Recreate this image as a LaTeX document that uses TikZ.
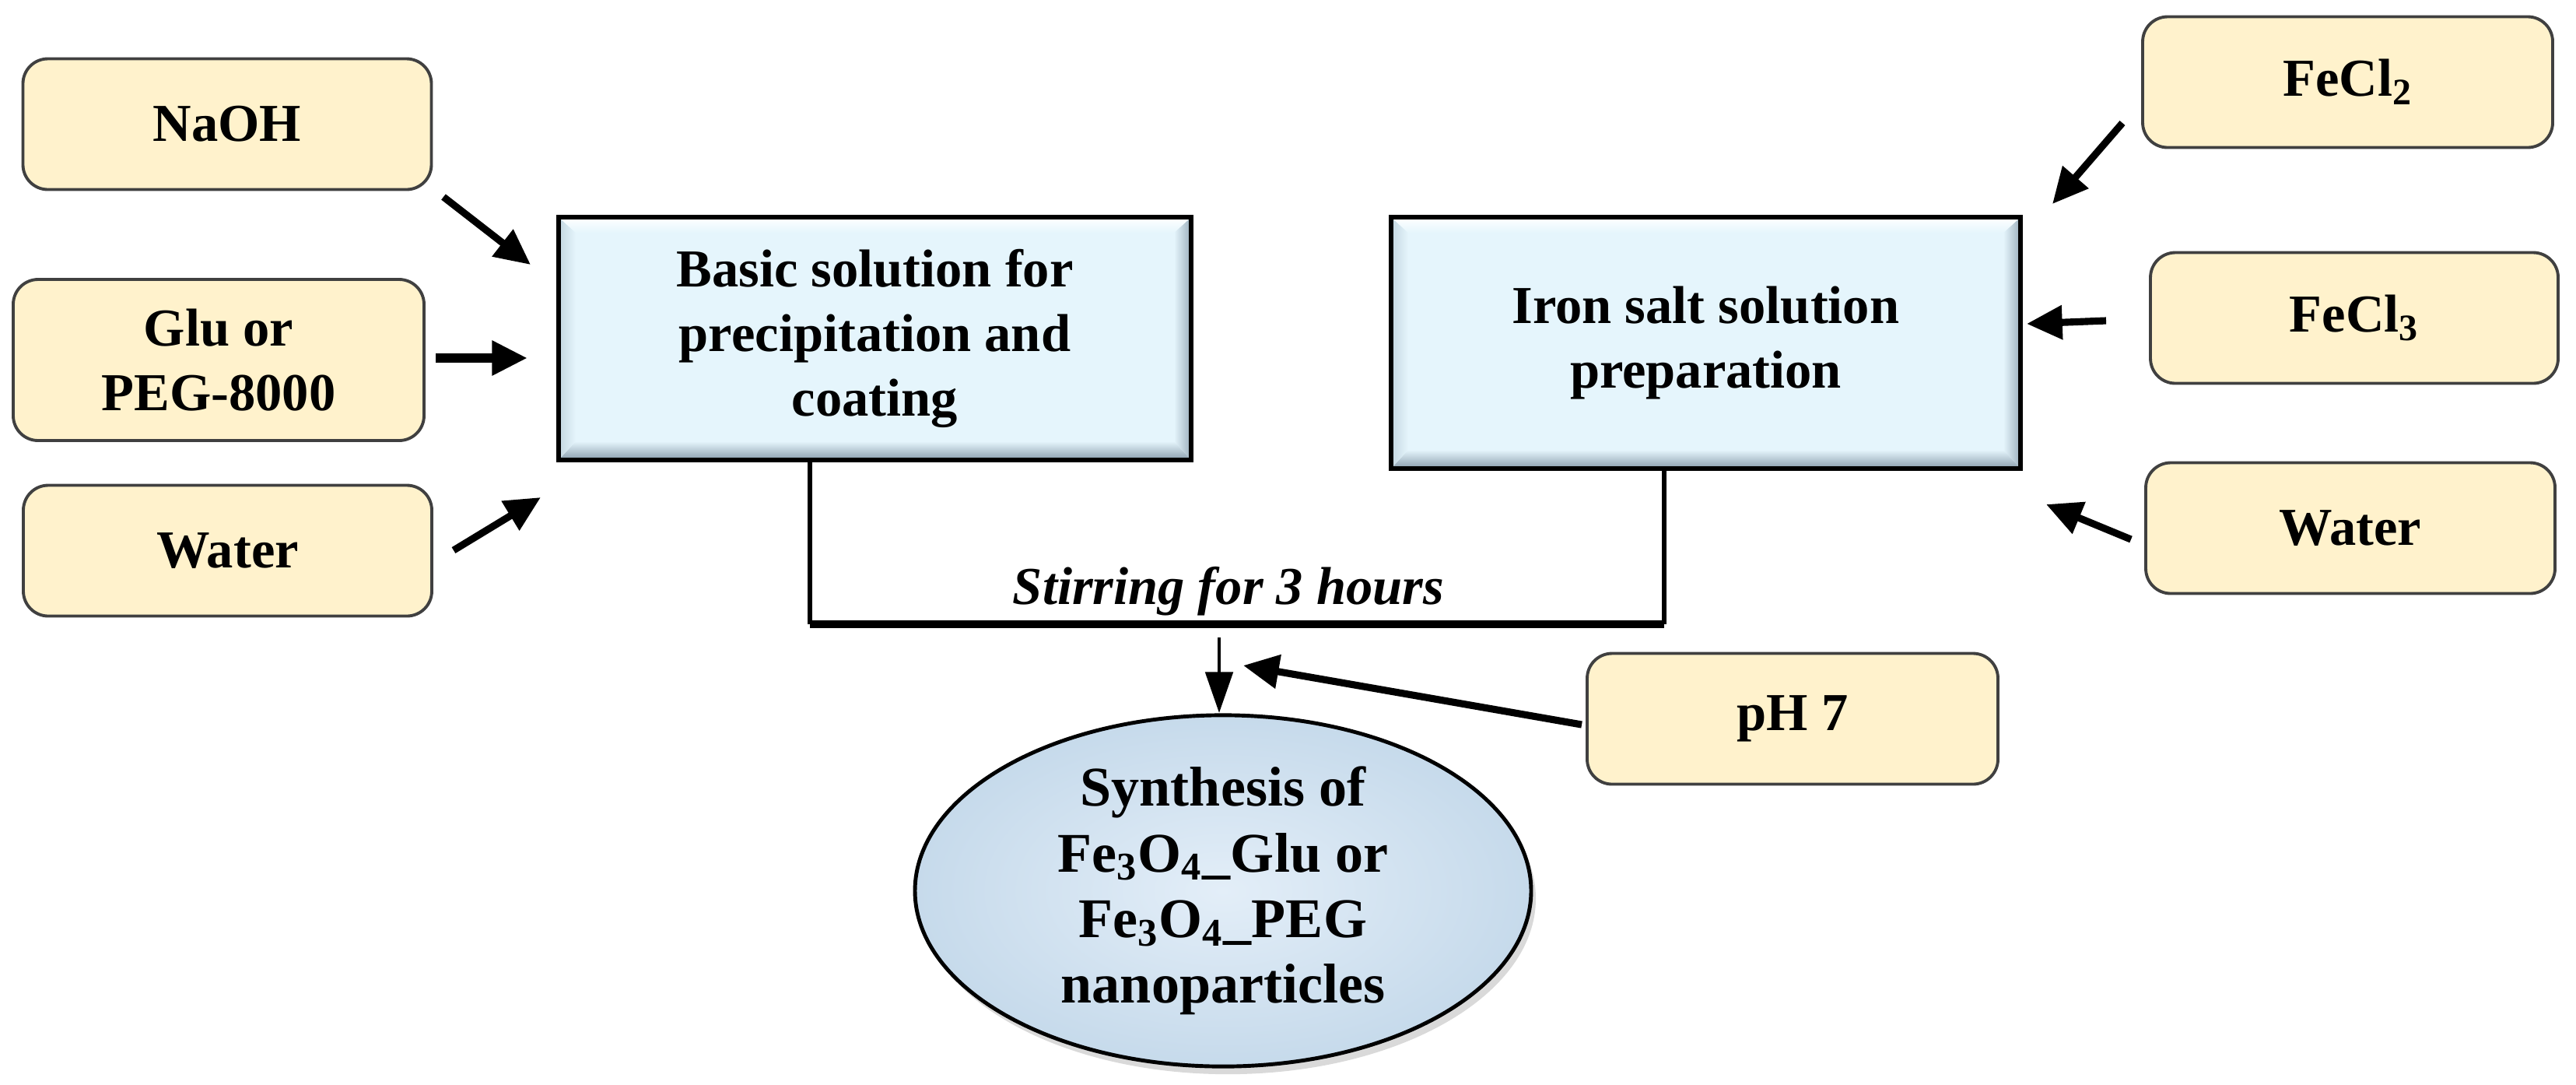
\documentclass[tikz,border=0pt]{standalone}
\usepackage{fontspec}
\setmainfont{Liberation Serif}
\usetikzlibrary{arrows.meta,shapes.geometric,shadows}
\definecolor{beige}{HTML}{FFF2CC}
\definecolor{beigeedge}{HTML}{404040}
\definecolor{bluefill}{HTML}{E5F5FC}
\definecolor{bluedark}{HTML}{8A9EAD}
\definecolor{bluemid}{HTML}{C4D6E0}
\definecolor{ellin}{HTML}{E3EEF8}
\definecolor{ellout}{HTML}{C6DAEB}
\begin{document}
\begin{tikzpicture}[
  font=\fontsize{19.5}{23.5}\selectfont\bfseries,
  srcbox/.style={draw=beigeedge, line width=1.1pt, fill=beige, rounded corners=0.32cm,
    minimum width=5.25cm, minimum height=1.68cm, align=center, inner sep=0pt},
  bluebox/.style={draw=black, line width=1.7pt, fill=bluefill, align=center, inner sep=0pt,
    path picture={
      \path (path picture bounding box.south west) coordinate (pbsw)
            (path picture bounding box.south east) coordinate (pbse)
            (path picture bounding box.north west) coordinate (pbnw)
            (path picture bounding box.north east) coordinate (pbne);
      \shade[top color=bluefill, bottom color=bluedark]
        (pbsw) -- (pbse) -- ([shift={(-0.22,0.24)}]pbse) -- ([shift={(0.22,0.24)}]pbsw) -- cycle;
      \shade[left color=bluefill, right color=bluedark!70!bluemid]
        (pbse) -- (pbne) -- ([shift={(-0.22,-0.2)}]pbne) -- ([shift={(-0.22,0.24)}]pbse) -- cycle;
      \shade[left color=bluemid, right color=bluefill]
        (pbsw) -- (pbnw) -- ([shift={(0.22,-0.2)}]pbnw) -- ([shift={(0.22,0.24)}]pbsw) -- cycle;
      \shade[top color=white, bottom color=bluefill]
        (pbnw) -- (pbne) -- ([shift={(-0.22,-0.2)}]pbne) -- ([shift={(0.22,-0.2)}]pbnw) -- cycle;
    }},
  thickarrow/.style={line width=2.6pt, -{Triangle[length=13pt,width=12pt]}},
  linkline/.style={line width=1.7pt},
]
\useasboundingbox (0,0) rectangle (33.11,-13.93);

% source boxes, left
\node[srcbox] (naoh) at (2.92,-1.595) {NaOH};
\node[srcbox, minimum width=5.28cm, minimum height=2.07cm] (glu) at (2.81,-4.625) {Glu or\\PEG-8000};
\node[srcbox] (waterL) at (2.925,-7.075) {Water};

% source boxes, right
\node[srcbox, minimum width=5.27cm] (fecl2) at (30.175,-1.055) {FeCl\textsubscript{2}};
\node[srcbox, minimum width=5.24cm] (fecl3) at (30.26,-4.085) {FeCl\textsubscript{3}};
\node[srcbox, minimum width=5.26cm] (waterR) at (30.21,-6.785) {Water};
\node[srcbox, minimum width=5.28cm] (ph) at (23.04,-9.235) {pH 7};

% process boxes
\node[bluebox, minimum width=8.13cm, minimum height=3.12cm] (basic) at (11.245,-4.35)
  {Basic solution for\\precipitation and\\coating};
\node[bluebox, minimum width=8.09cm, minimum height=3.23cm] (iron) at (21.925,-4.405)
  {Iron salt solution\\preparation};

% product ellipse
\node[ellipse, draw=black, line width=1.4pt, inner sep=0pt, inner color=ellin, outer color=ellout,
  minimum width=7.92cm, minimum height=4.19cm, align=center,
  drop shadow={opacity=0.3, shadow xshift=0.06cm, shadow yshift=-0.1cm},
  font=\fontsize{20.5}{24}\selectfont\bfseries] (synth) at (15.72,-11.445)
  {Synthesis of\\Fe\textsubscript{3}O\textsubscript{4}\_Glu or\\Fe\textsubscript{3}O\textsubscript{4}\_PEG\\nanoparticles};

% stirring bracket
\coordinate (jl) at (10.41,-8.02);
\coordinate (jr) at (21.39,-8.02);
\draw[linkline] (basic.south -| jl) -- (jl);
\draw[linkline] (iron.south -| jr) -- (jr);
\draw[line width=3pt] (jl) -- (jr);
\node[font=\fontsize{19.5}{23.5}\selectfont\bfseries\itshape] (stir) at (15.79,-7.6) {Stirring for 3 hours};

% downward arrow to product
\coordinate (dtop) at (15.67,-8.19);
\coordinate (dbot) at (15.67,-9.16);
\draw[line width=1.4pt, -{Triangle[length=15pt,width=10pt]}] (dtop) -- (dbot);

% pH arrow
\coordinate (phs) at (20.33,-9.31);
\coordinate (phe) at (15.98,-8.55);
\draw[thickarrow] (phs) -- (phe);

% left input arrows
\coordinate (a1s) at (5.70,-2.53);  \coordinate (a1e) at (6.82,-3.40);
\coordinate (a2s) at (5.60,-4.60);  \coordinate (a2e) at (6.78,-4.60);
\coordinate (a3s) at (5.83,-7.07);  \coordinate (a3e) at (6.95,-6.39);
\draw[thickarrow] (a1s) -- (a1e);
\draw[thickarrow, line width=3.6pt] (a2s) -- (a2e);
\draw[thickarrow] (a3s) -- (a3e);

% right input arrows
\coordinate (b1s) at (27.28,-1.58); \coordinate (b1e) at (26.38,-2.62);
\coordinate (b2s) at (27.07,-4.12); \coordinate (b2e) at (26.05,-4.16);
\coordinate (b3s) at (27.39,-6.93); \coordinate (b3e) at (26.30,-6.48);
\draw[thickarrow] (b1s) -- (b1e);
\draw[thickarrow] (b2s) -- (b2e);
\draw[thickarrow] (b3s) -- (b3e);
\end{tikzpicture}
\end{document}
